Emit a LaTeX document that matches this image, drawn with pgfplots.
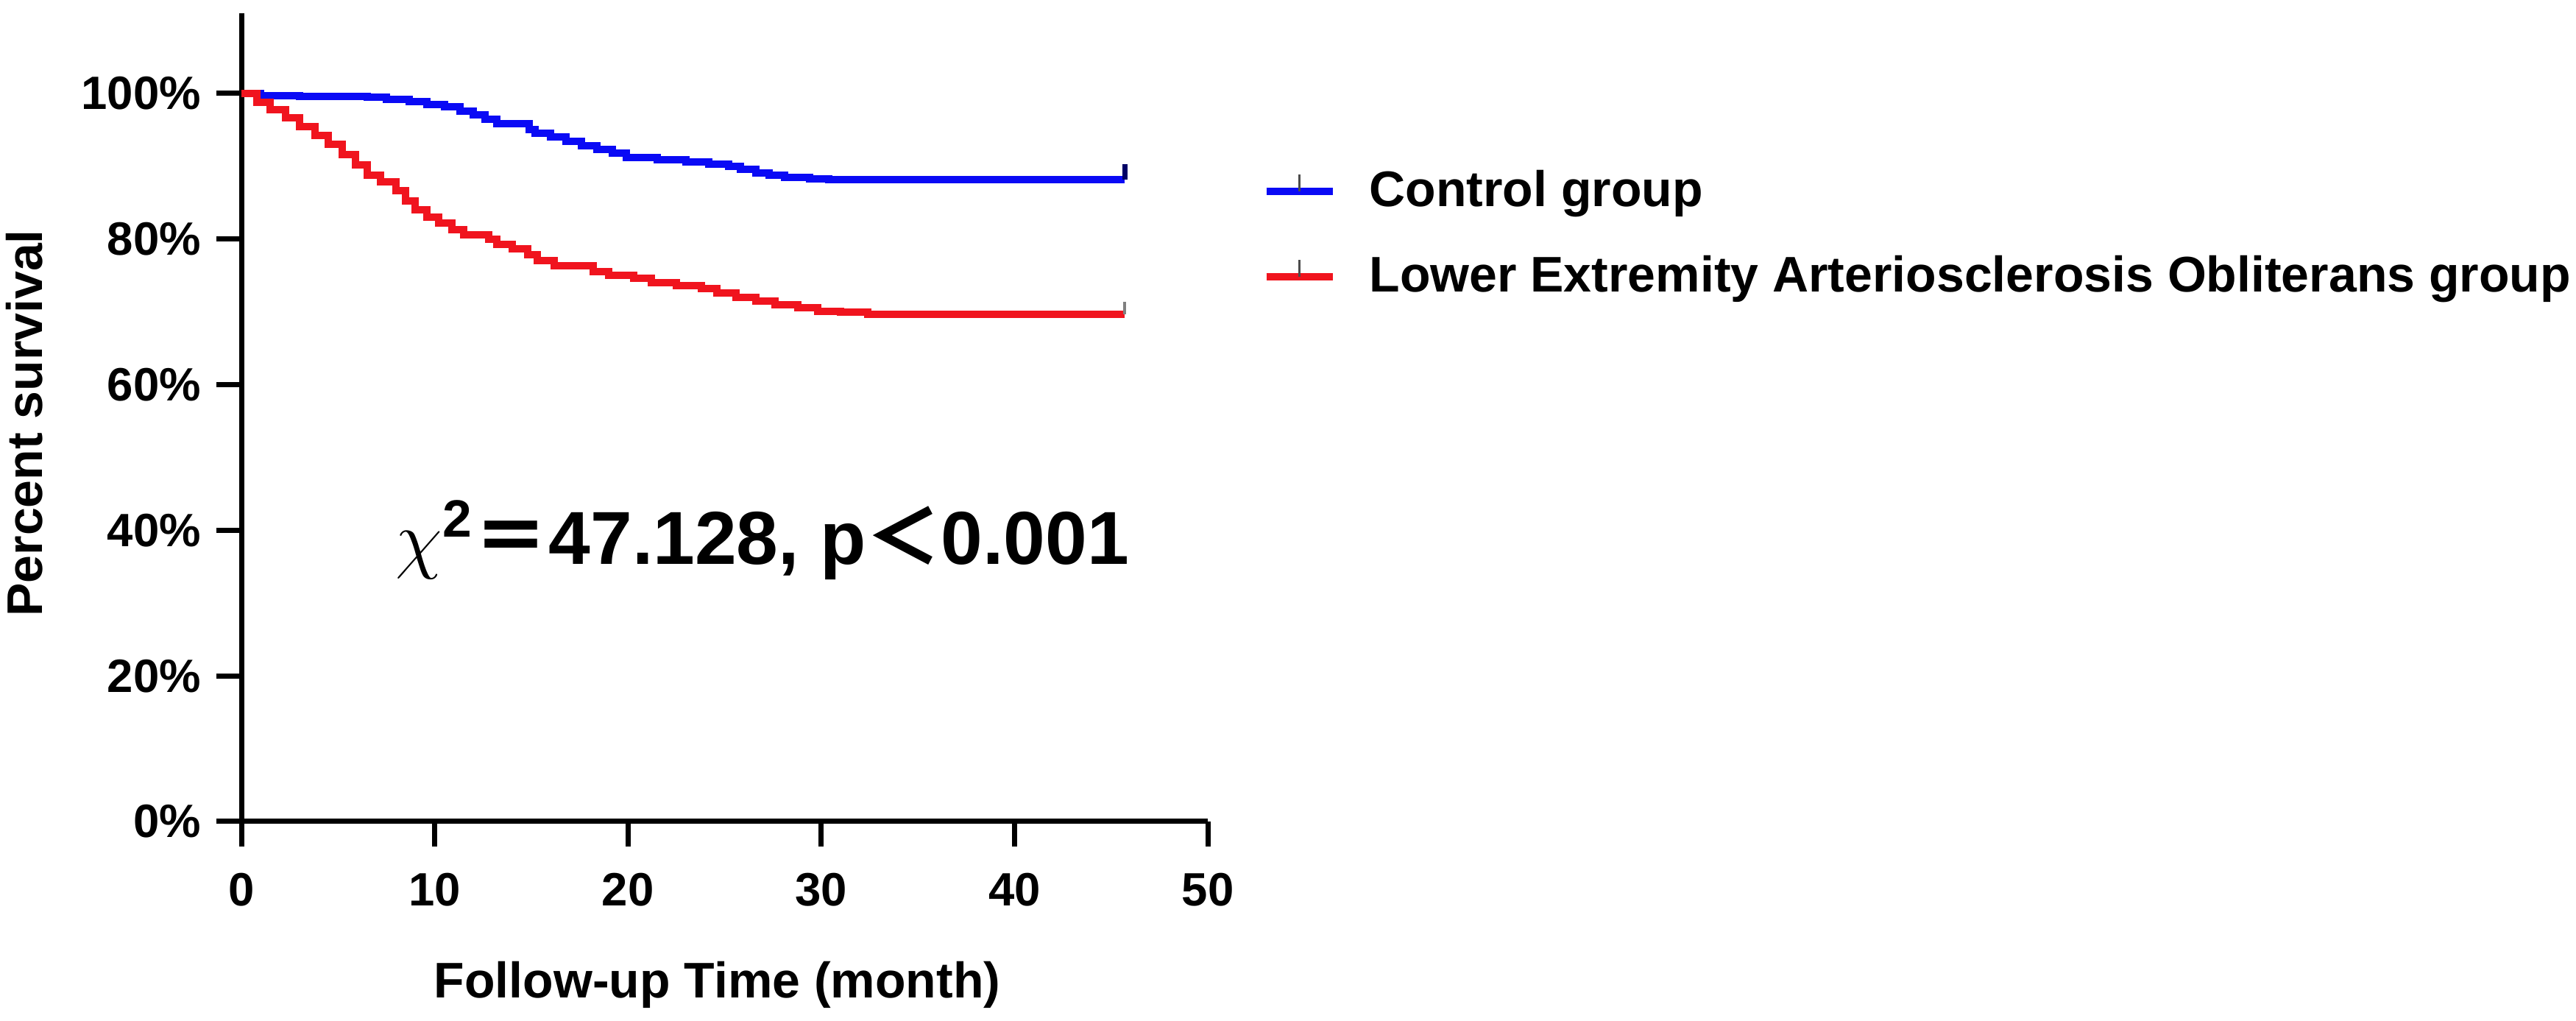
\documentclass[border=0pt]{standalone}
\usepackage{fontspec}
\setmainfont{Liberation Sans}
\newfontfamily\cjk{Noto Sans CJK SC}
\usepackage{pgfplots}
\pgfplotsset{compat=1.18}
\definecolor{kmblue}{RGB}{10,10,245}
\definecolor{kmred}{RGB}{240,20,30}
\begin{document}
\begin{tikzpicture}
\useasboundingbox (-65.6pt,-54.2pt) rectangle (634.4pt,223.2pt);
\begin{axis}[
  scale only axis, width=262.6pt, height=219.6pt,
  xmin=0, xmax=50, ymin=0, ymax=111,
  axis x line*=bottom, axis y line*=left,
  axis line style={line width=1.4pt, black},
  xtick={0,10,20,30,40,50}, ytick={0,20,40,60,80,100},
  tick align=outside, major tick length=6.8pt,
  tick style={line width=1.4pt, black},
  /pgf/number format/assume math mode=true,
  yticklabel={\pgfmathprintnumber{\tick}\%},
  ticklabel style={font=\bfseries\fontsize{12.7}{14}\selectfont, inner sep=0pt},
  xticklabel style={anchor=north, yshift=-7pt},
  yticklabel style={anchor=east, xshift=-4pt},
  xlabel={Follow-up Time (month)},
  ylabel={Percent survival},
  every axis x label/.style={at={(axis description cs:0.5,0)}, xshift=-2pt, yshift=-37.8pt, anchor=north,
    font=\bfseries\fontsize{13.6}{15}\selectfont, inner sep=0pt},
  every axis y label/.style={at={(axis description cs:0,0.4928)}, xshift=-59pt, rotate=90, anchor=center,
    font=\bfseries\fontsize{13.6}{15}\selectfont, inner sep=0pt},
  clip=false,
  legend cell align=left,
  legend image code/.code={%
    \path[draw=none, fill=none] (0pt,-6.5pt) rectangle (18pt,6.5pt);
    \draw[#1] (0pt,0.7pt) -- (18pt,0.7pt);
    \draw[black!70, line width=0.6pt] (9pt,0.7pt) -- (9pt,5.3pt);},
  legend style={at={(axis cs:52.8,89.6)}, anchor=north west, draw=none, fill=none,
    inner sep=0pt, row sep=10.2pt,
    font=\bfseries\fontsize{13.6}{15}\selectfont,
    nodes={inner sep=0pt, text height=10pt, text depth=3pt},
    /tikz/every odd column/.append style={column sep=9pt}},
]
\addplot[kmblue, line width=2pt, const plot] coordinates {
 (0,100) (1,99.7) (3,99.6) (6.5,99.5) (7.5,99.2) (8.7,98.9) (9.6,98.5)
 (10.5,98.2) (11.3,97.6) (12.0,97.0) (12.6,96.4) (13.2,95.8) (14.9,95.0)
 (15.2,94.5) (16.0,94.0) (16.8,93.4) (17.6,92.8) (18.4,92.3) (19.2,91.8)
 (19.9,91.2) (21.5,90.9) (23.0,90.6) (24.2,90.3) (25.2,90.0) (25.8,89.6)
 (26.6,89.1) (27.3,88.8) (28.1,88.5) (29.4,88.3) (30.4,88.1) (45.7,88.1)};
\addlegendentry{Control group}
\addplot[kmred, line width=2pt, const plot] coordinates {
 (0,100) (0.8,98.8) (1.5,97.8) (2.3,96.6) (3.0,95.4) (3.8,94.2) (4.5,93.0)
 (5.2,91.6) (5.9,90.2) (6.5,88.8) (7.2,87.8) (8.0,86.6) (8.5,85.2) (9.0,84.0)
 (9.6,83.0) (10.2,82.2) (10.9,81.3) (11.5,80.6) (12.8,80.0) (13.2,79.3)
 (14.0,78.6) (14.8,77.8) (15.3,77.0) (16.2,76.3) (18.2,75.5) (19.0,75.0)
 (20.3,74.6) (21.2,74.0) (22.5,73.6) (23.8,73.2) (24.6,72.6) (25.6,72.0)
 (26.6,71.5) (27.6,71.0) (28.8,70.6) (29.8,70.1) (31.0,70.0) (32.4,69.7)
 (45.7,69.7)};
\addlegendentry{Lower Extremity Arteriosclerosis Obliterans group}
\addplot[blue!40!black, line width=1.4pt, forget plot] coordinates {(45.7,88.1) (45.7,90.3)};
\addplot[gray, line width=0.8pt, forget plot] coordinates {(45.7,69.7) (45.7,71.4)};
\node[anchor=base west, inner sep=0pt, font=\bfseries\fontsize{20.4}{22}\selectfont]
  at (axis cs:7.95,35.3) {$\chi$\textsuperscript{2}{\cjk ＝}47.128, p{\cjk ＜}0.001};
\end{axis}
\end{tikzpicture}
\end{document}
